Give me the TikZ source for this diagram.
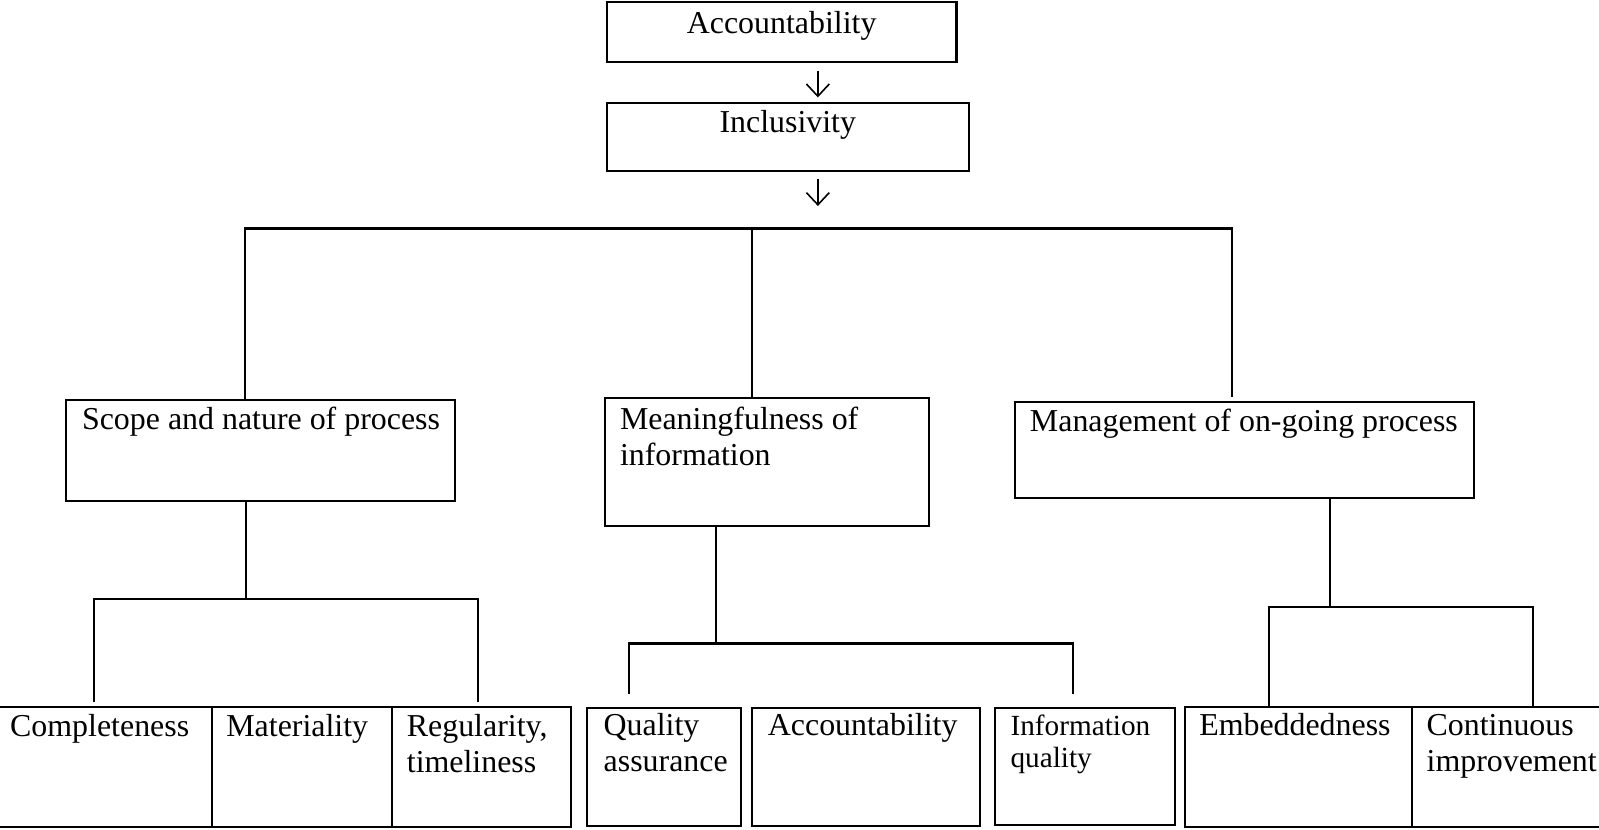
\documentclass[tikz,border=0pt]{standalone}
\usepackage{fontspec}
\setmainfont{Liberation Serif}
\usetikzlibrary{fit,calc,arrows.meta}
\tikzset{
  box/.style={draw=black, line width=0.8pt, inner sep=0pt, outer sep=0pt},
  lbl/.style={anchor=base west, inner sep=0pt, outer sep=0pt, align=left, font=\fontsize{12pt}{13.5pt}\selectfont},
  lblsmall/.style={lbl, font=\fontsize{11pt}{12.3pt}\selectfont},
  lblc/.style={anchor=base, inner sep=0pt, outer sep=0pt, font=\fontsize{12pt}{13.5pt}\selectfont},
  downarrow/.style={draw=black, line width=0.6pt, -{Straight Barb[length=4.6pt, width=8.6pt, line width=0.6pt]}},
  conn/.style={draw=black, line width=0.8pt}
}
\begin{document}
\begin{tikzpicture}[x=0.3836pt, y=-0.3836pt]
\useasboundingbox (0,0) rectangle (1568,813);

% top boxes
\node[box, fit={(595,2) (938,61)}] (acc) {};
\node[box, fit={(595,101) (950,168)}] (incl) {};
\node[lblc] (acctxt) at ($(acc.north)+(0,30.5)$) {Accountability};
\node[lblc] (incltxt) at ($(incl.north)+(0,29)$) {Inclusivity};

% down arrows (free-standing, as in the reference)
\coordinate (a1s) at (802,70);
\coordinate (a1e) at (802,95.5);
\coordinate (a2s) at (802,176);
\coordinate (a2e) at (802,202);
\draw[downarrow] (a1s) -- (a1e);
\draw[downarrow] (a2s) -- (a2e);

% middle level boxes
\node[box, fit={(65,392) (446,491)}] (scope) {};
\node[box, fit={(593,390) (911,516)}] (mean) {};
\node[box, fit={(995,394) (1445,488)}] (mgmt) {};
\node[lbl] (scopetxt) at (80.5,421) {Scope and nature of process};
\node[lbl] (meantxt) at (608,456) {Meaningfulness of\\information};
\node[lbl] (mgmttxt) at (1010,423) {Management of on-going process};

% bottom boxes
\node[box, fit={(-30,693) (208,811)}] (comp) {};
\node[box, fit={(208,693) (384,811)}] (mat) {};
\node[box, fit={(384,693) (560,811)}] (reg) {};
\node[box, fit={(576,694) (727,810)}] (qa) {};
\node[box, fit={(737,694) (961,810)}] (acc2) {};
\node[box, fit={(976,694) (1152,809)}] (iq) {};
\node[box, fit={(1162,693) (1385,811)}] (emb) {};
\node[box, fit={(1385,693) (1600,811)}] (cont) {};

\node[lbl] (comptxt) at (10,722) {Completeness};
\node[lbl] (mattxt) at (222,722) {Materiality};
\node[lbl] (regtxt) at (399,757.5) {Regularity,\\timeliness};
\node[lbl] (qatxt) at (592,756.5) {Quality\\assurance};
\node[lbl] (acc2txt) at (753,721) {Accountability};
\node[lblsmall] (iqtxt) at (991,753) {Information\\quality};
\node[lbl] (embtxt) at (1176,721) {Embeddedness};
\node[lbl] (conttxt) at (1399,756.5) {Continuous\\improvement};

% top bus
\coordinate (busL) at (240,224);
\coordinate (busM) at (737,224);
\coordinate (busR) at (1208,224);
\draw[conn] (scope.north west -| busL) -- (busL) -- (busR) -- ($(mgmt.north west -| busR)+(0,-5)$);
\draw[conn] (busM) -- (mean.north west -| busM);

% left subtree
\coordinate (s1) at (241,587);
\coordinate (s1L) at (92,587);
\coordinate (s1R) at (469,587);
\draw[conn] (scope.south west -| s1) -- (s1);
\draw[conn] ($(comp.north west -| s1L)+(0,-5)$) -- (s1L) -- (s1R) -- ($(reg.north west -| s1R)+(0,-5)$);

% middle subtree
\coordinate (m1) at (702,631);
\coordinate (m1L) at (617,631);
\coordinate (m1R) at (1052,631);
\draw[conn] (mean.south west -| m1) -- (m1);
\draw[conn] ($(qa.north west -| m1L)+(0,-13)$) -- (m1L) -- (m1R) -- ($(iq.north west -| m1R)+(0,-13)$);

% right subtree
\coordinate (r1) at (1304,595);
\coordinate (r1L) at (1244,595);
\coordinate (r1R) at (1503,595);
\draw[conn] (mgmt.south west -| r1) -- (r1);
\draw[conn] (emb.north west -| r1L) -- (r1L) -- (r1R) -- (cont.north west -| r1R);
\end{tikzpicture}
\end{document}
